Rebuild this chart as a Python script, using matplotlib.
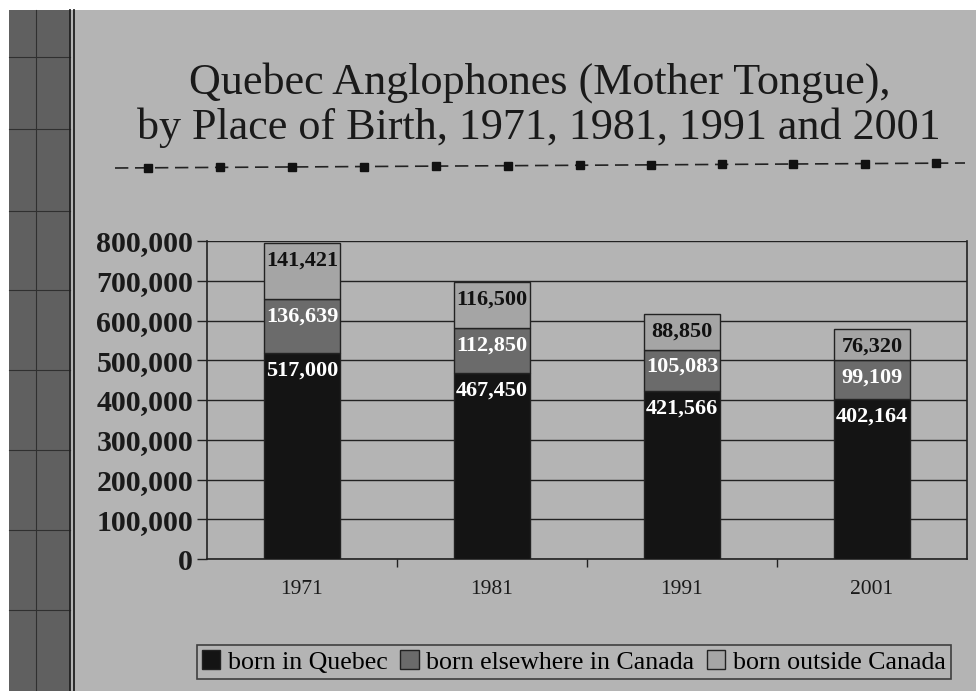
import matplotlib.pyplot as plt
from matplotlib.patches import Rectangle
from matplotlib.lines import Line2D

years = ['1971', '1981', '1991', '2001']
born_quebec = [517000, 467450, 421566, 402164]
born_canada = [136639, 112850, 105083, 99109]
born_outside = [141421, 116500, 88850, 76320]

W, H = 976, 691
serif = ['Liberation Serif', 'DejaVu Serif']

fig = plt.figure(figsize=(W / 100, H / 100), dpi=100, facecolor='white')

# page background and left strip
fig.patches.append(Rectangle((9 / W, 0), 1, (H - 10) / H, transform=fig.transFigure,
                             facecolor='#b4b4b4', edgecolor='none', zorder=-3))
fig.patches.append(Rectangle((9 / W, 0), 61 / W, (H - 10) / H, transform=fig.transFigure,
                             facecolor='#606060', edgecolor='none', zorder=-2))
for yy in [57, 129, 211, 290, 370, 450, 530, 610]:
    fig.lines.append(Line2D([9 / W, 70 / W], [1 - yy / H] * 2, transform=fig.transFigure,
                            color='#303030', lw=0.8, zorder=-1))
fig.lines.append(Line2D([36 / W] * 2, [0, 1 - 10 / H], transform=fig.transFigure,
                        color='#303030', lw=0.8, zorder=-1))
for xx in [70, 74]:
    fig.lines.append(Line2D([xx / W] * 2, [0, 1 - 10 / H], transform=fig.transFigure,
                            color='#202020', lw=1.3, zorder=-1))

# title
fig.text(540 / W, 1 - 83 / H, 'Quebec Anglophones (Mother Tongue),', ha='center', va='center',
         fontsize=31.8, family=serif, color='#1a1a1a')
fig.text(539 / W, 1 - 128 / H, 'by Place of Birth, 1971, 1981, 1991 and 2001', ha='center',
         va='center', fontsize=31.8, family=serif, color='#1a1a1a')

# decorative dashed line with markers
mx = [148, 220, 292, 364, 436, 508, 580, 651, 722, 793, 865, 936]
fig.lines.append(Line2D([115 / W, 965 / W], [1 - 168 / H, 1 - 163 / H], transform=fig.transFigure,
                        color='#222222', lw=1.2, ls=(0, (8, 4)), zorder=-1))
fig.lines.append(Line2D([x / W for x in mx], [1 - (168 - 5 * (x - 115) / 850) / H for x in mx],
                        transform=fig.transFigure, color='none', marker='s', ms=6,
                        markerfacecolor='#111111', markeredgecolor='#111111', zorder=-1))

ax = fig.add_axes([207 / W, (H - 559) / H, (967 - 207) / W, (559 - 241) / H])
ax.set_facecolor('none')

x = range(len(years))
bw = 0.4
c1, c2, c3 = '#141414', '#6b6b6b', '#a5a5a5'
b1 = ax.bar(x, born_quebec, bw, color=c1, edgecolor='#222222', lw=1, label='born in Quebec', zorder=3)
bottom2 = born_quebec
b2 = ax.bar(x, born_canada, bw, bottom=bottom2, color=c2, edgecolor='#222222', lw=1,
            label='born elsewhere in Canada', zorder=3)
bottom3 = [a + b for a, b in zip(born_quebec, born_canada)]
b3 = ax.bar(x, born_outside, bw, bottom=bottom3, color=c3, edgecolor='#222222', lw=1,
            label='born outside Canada', zorder=3)

for i in x:
    tops = [born_quebec[i], bottom3[i], bottom3[i] + born_outside[i]]
    vals = [born_quebec[i], born_canada[i], born_outside[i]]
    cols = ['white', 'white', '#111111']
    for t, v, c in zip(tops, vals, cols):
        ax.annotate(f'{v:,}', (i, t), xytext=(0, -12.5), textcoords='offset points',
                    ha='center', va='center', fontsize=16, fontweight='bold',
                    family=serif, color=c, zorder=4)

ax.set_xlim(-0.5, 3.5)
ax.set_ylim(0, 800000)
ax.set_yticks(range(0, 800001, 100000))
ax.set_yticklabels([f'{v:,}' for v in range(0, 800001, 100000)], fontsize=21.5,
                   fontweight='bold', family=serif, color='#1a1a1a')
ax.yaxis.grid(True, color='#222222', lw=1)
ax.set_axisbelow(True)
ax.tick_params(axis='y', length=7, width=1, color='#222222', pad=3)

ax.set_xticks([0.5, 1.5, 2.5], minor=False)
ax.set_xticklabels([])
ax.tick_params(axis='x', length=6, width=1, color='#222222')
ax.set_xticks(list(x), minor=True)
ax.set_xticklabels(years, minor=True, fontsize=15.5, family=serif, color='#1a1a1a')
ax.tick_params(axis='x', which='minor', length=0, pad=15)

for s in ['left', 'right', 'bottom']:
    ax.spines[s].set_color('#222222')
    ax.spines[s].set_linewidth(1.2)
ax.spines['top'].set_visible(False)

leg = fig.legend(handles=[b1, b2, b3], loc='center', bbox_to_anchor=(574 / W, 1 - 662 / H),
                 ncol=3, frameon=True, fancybox=False, edgecolor='#222222',
                 facecolor='none', prop={'family': serif, 'size': 18.6},
                 handlelength=0.7, handleheight=0.7, handletextpad=0.3, columnspacing=0.5,
                 borderpad=0.2)
leg.get_frame().set_linewidth(1.2)

fig.savefig('out.png', dpi=100, facecolor=fig.get_facecolor())
